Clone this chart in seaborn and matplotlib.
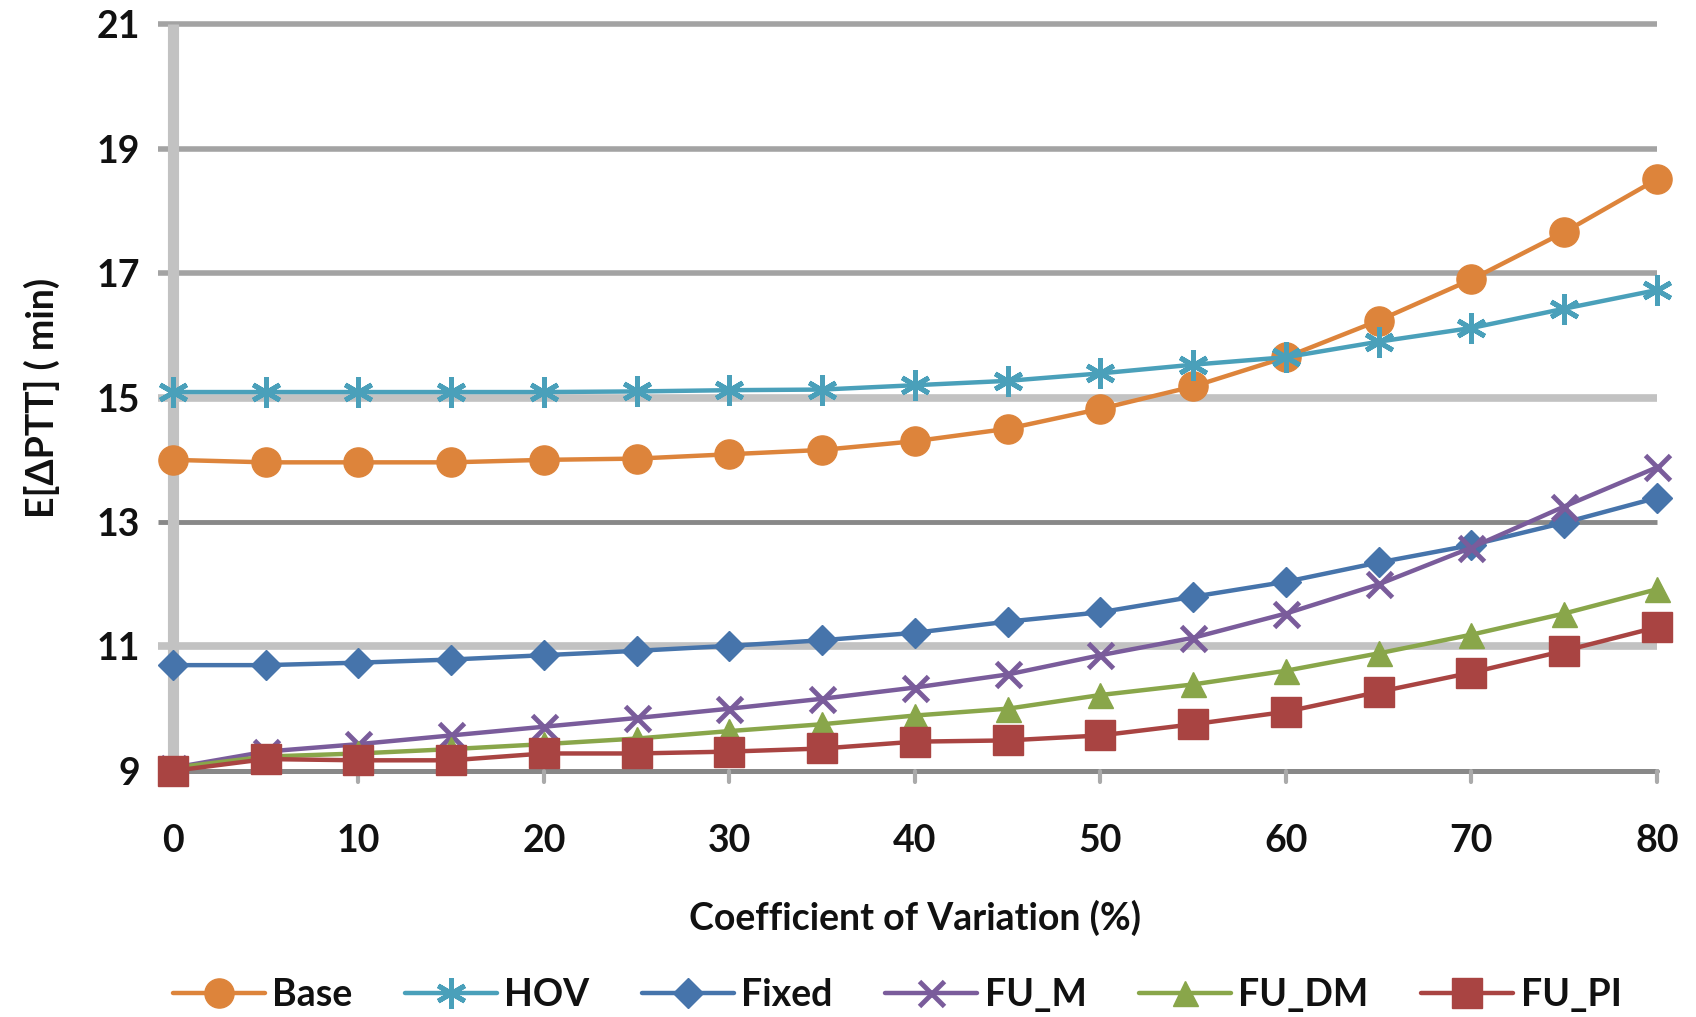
import matplotlib
matplotlib.use("Agg")
import matplotlib.pyplot as plt
import seaborn as sns
import pandas as pd

# Coefficient of variation (%)
cv = [0, 5, 10, 15, 20, 25, 30, 35, 40, 45, 50, 55, 60, 65, 70, 75, 80]

# Expected travel-time values (min) for each strategy
base = [14.00, 13.96, 13.96, 13.96, 14.00, 14.02, 14.09, 14.16, 14.30, 14.50,
        14.82, 15.18, 15.65, 16.24, 16.90, 17.66, 18.51]
hov = [15.09, 15.09, 15.09, 15.09, 15.09, 15.10, 15.12, 15.13, 15.20, 15.27,
       15.39, 15.53, 15.65, 15.90, 16.12, 16.43, 16.73]
fixed = [10.70, 10.70, 10.74, 10.79, 10.86, 10.93, 11.01, 11.10, 11.22, 11.40,
         11.55, 11.80, 12.04, 12.35, 12.63, 12.99, 13.39]
fu_m = [9.05, 9.31, 9.43, 9.57, 9.71, 9.85, 10.00, 10.16, 10.34, 10.55,
        10.86, 11.14, 11.53, 12.00, 12.59, 13.25, 13.88]
fu_dm = [9.05, 9.23, 9.28, 9.35, 9.43, 9.52, 9.64, 9.75, 9.89, 10.00,
         10.22, 10.39, 10.61, 10.89, 11.19, 11.53, 11.92]
fu_pi = [9.00, 9.19, 9.17, 9.17, 9.28, 9.28, 9.31, 9.36, 9.47, 9.49,
         9.57, 9.75, 9.95, 10.27, 10.58, 10.93, 11.31]

series_names = ["Base", "HOV", "Fixed", "FU_M", "FU_DM", "FU_PI"]
colors = ["#DD843B", "#4AA0BA", "#4674AB", "#7A5C9B", "#89A64A", "#A94442"]
markers = ["o", (6, 2, 0), "D", "x", "^", "s"]
msizes = [21, 22, 15, 18, 18, 21]
medge = [1, 3.5, 1, 3.5, 1, 1]

y_ticks = [9, 11, 13, 15, 17, 19, 21]
x_ticks = [0, 10, 20, 30, 40, 50, 60, 70, 80]
grid_colors = ["#888888", "#c2c2c2", "#888888", "#c2c2c2", "#a3a3a3", "#a3a3a3", "#a3a3a3"]
grid_widths = [3.5, 5.5, 3.5, 5.5, 4.0, 4.0, 4.0]

frames = []
for name, vals in zip(series_names, [base, hov, fixed, fu_m, fu_dm, fu_pi]):
    frames.append(pd.DataFrame({"cv": cv, "value": vals, "series": name}))
df = pd.concat(frames, ignore_index=True)

sns.set_theme(style="white")
plt.rcParams["font.family"] = ["Lato", "DejaVu Sans"]
FS = 27
TXT = "#111111"

fig = plt.figure(figsize=(16.96, 10.17), dpi=100)
ax = fig.add_axes([0.102, 0.242, 0.875, 0.734])

# horizontal gridlines, slightly extending left like tick marks
for yv, gc, gw in zip(y_ticks, grid_colors, grid_widths):
    ax.plot([-0.8, 80], [yv, yv], color=gc, lw=gw, zorder=1,
            clip_on=False, solid_capstyle="butt")
# vertical axis line
ax.plot([0, 0], [9, 21], color="#c2c2c2", lw=8, zorder=1, clip_on=False,
        solid_capstyle="butt")
# bottom axis with ticks
ax.plot([0, 80], [9, 9], color="#888888", lw=3.5, zorder=1, clip_on=False)
for xv in x_ticks:
    ax.plot([xv, xv], [9, 8.82], color="#aaaaaa", lw=3, zorder=1, clip_on=False)

for name, c, m, ms, me in zip(series_names, colors, markers, msizes, medge):
    sub = df[df["series"] == name]
    sns.lineplot(data=sub, x="cv", y="value", ax=ax, color=c, lw=3.2,
                 marker=m, markersize=ms, markeredgecolor=c,
                 markeredgewidth=me, label=name, zorder=3, clip_on=False)

ax.set_xlim(0, 80)
ax.set_ylim(9, 21)
ax.set_xticks(x_ticks)
ax.set_yticks(y_ticks)
ax.tick_params(axis="both", length=0, labelsize=FS, colors=TXT)
ax.tick_params(axis="x", pad=38)
ax.tick_params(axis="y", pad=24)
for lbl in ax.get_xticklabels() + ax.get_yticklabels():
    lbl.set_fontweight("bold")
for s in ax.spines.values():
    s.set_visible(False)

ax.set_xlabel("Coefficient of Variation (%)", fontsize=FS, color=TXT,
              fontweight="bold", labelpad=30)
ax.set_ylabel("E[ΔPTT] ( min)", fontsize=FS, color=TXT, fontweight="bold",
              labelpad=26)

leg = ax.legend(loc="center", bbox_to_anchor=(0.488, -0.300), ncol=6,
                frameon=False, handlelength=2.45, columnspacing=1.4,
                handletextpad=0.2, prop={"size": FS, "weight": "bold"})
for t in leg.get_texts():
    t.set_color(TXT)

fig.savefig("out.png", dpi=100, facecolor="white")
